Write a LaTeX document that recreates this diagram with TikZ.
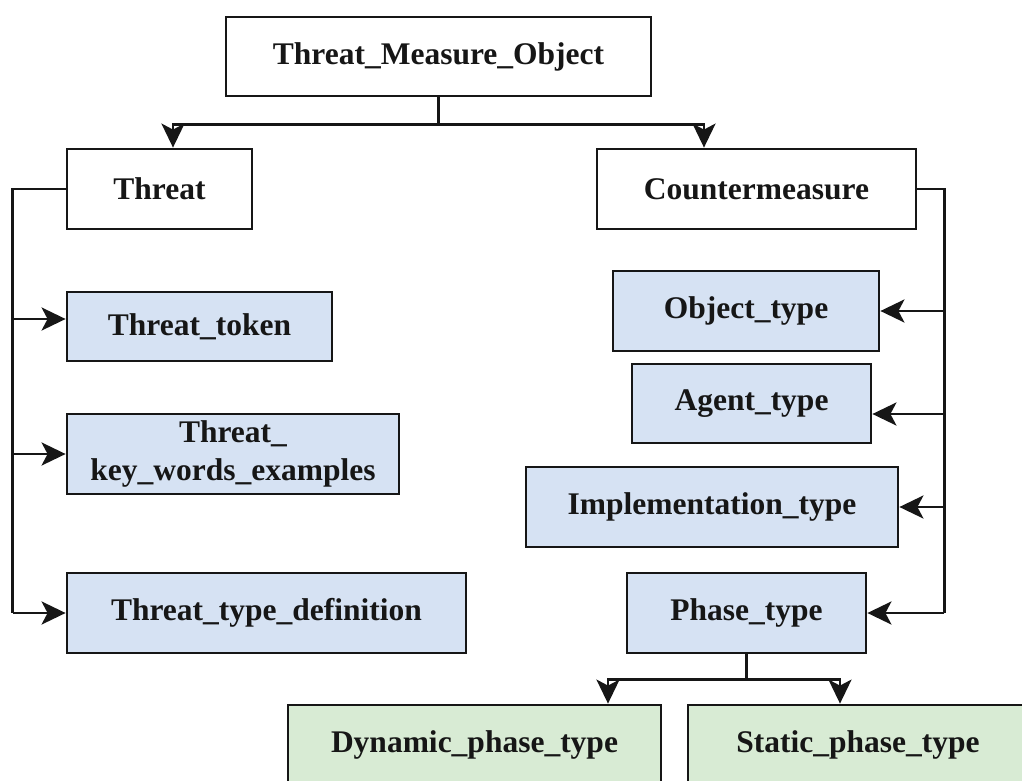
\documentclass[tikz,border=0pt]{standalone}
\usepackage{fontspec}
\setmainfont{Liberation Serif}
\usetikzlibrary{arrows.meta}

\definecolor{boxblue}{RGB}{214,226,243}
\definecolor{boxgreen}{RGB}{216,235,212}
\definecolor{ink}{RGB}{22,22,22}

\tikzset{
  box/.style={draw=ink, line width=2.8pt, rectangle, align=center, inner sep=0pt,
    font=\fontsize{31.5}{38}\selectfont\bfseries, text=ink},
  plainbox/.style={box, fill=white},
  bluebox/.style={box, fill=boxblue},
  greenbox/.style={box, fill=boxgreen},
  link/.style={draw=ink, line width=2.8pt},
  arr/.style={link, -{Stealth[length=24pt, width=23pt, inset=6pt]}}
}

\begin{document}
\begin{tikzpicture}[x=1pt, y=-1pt]
\useasboundingbox (0,0) rectangle (1022,781);
\clip (0,0) rectangle (1022,781);
\fill[white] (0,0) rectangle (1022,781);

% top level
\node[plainbox, minimum width=425pt, minimum height=79pt] (tmo) at (438.5,56.5) {Threat\_Measure\_Object};
\node[plainbox, minimum width=185pt, minimum height=80pt] (threat) at (159.5,189) {Threat};
\node[plainbox, minimum width=319pt, minimum height=80pt] (counter) at (756.5,189) {Countermeasure};

% threat attributes
\node[bluebox, minimum width=265pt, minimum height=69pt] (token) at (199.5,326.5) {Threat\_token};
\node[bluebox, minimum width=332pt, minimum height=80pt] (keys) at (233,454) {Threat\_\\key\_words\_examples};
\node[bluebox, minimum width=399pt, minimum height=80pt] (tdef) at (266.5,613) {Threat\_type\_definition};

% countermeasure attributes
\node[bluebox, minimum width=266pt, minimum height=80pt] (object) at (746,311) {Object\_type};
\node[bluebox, minimum width=239pt, minimum height=79pt] (agent) at (751.5,403.5) {Agent\_type};
\node[bluebox, minimum width=372pt, minimum height=80pt] (impl) at (712,507) {Implementation\_type};
\node[bluebox, minimum width=239pt, minimum height=80pt] (phase) at (746.5,613) {Phase\_type};

% phase subtypes
\node[greenbox, minimum width=373pt, minimum height=80pt] (dyn) at (474.5,745) {Dynamic\_phase\_type};
\node[greenbox, minimum width=340pt, minimum height=80pt] (stat) at (858,745) {Static\_phase\_type};

% root split
\coordinate (thIn) at ([xshift=13.5pt]threat.north);
\coordinate (cmIn) at ([xshift=-52.5pt]counter.north);
\draw[link] (tmo.south) -- ++(0,27) coordinate (tj);
\draw[arr] (tj) -| (thIn);
\draw[arr] (tj) -| (cmIn);

% threat trunk
\draw[link] (threat.west) -- ++(-53,0) coordinate (tl) -- (tl |- tdef.west);
\coordinate (tokIn) at ([yshift=7.5pt]token.west);
\draw[arr] (tl |- tokIn) -- (tokIn);
\draw[arr] (tl |- keys.west) -- (keys.west);
\draw[arr] (tl |- tdef.west) -- (tdef.west);

% countermeasure trunk
\draw[link] (counter.east) -- ++(27,0) coordinate (cr) -- (cr |- phase.east);
\coordinate (agIn) at ([yshift=-10.5pt]agent.east);
\draw[arr] (cr |- object.east) -- (object.east);
\draw[arr] (cr |- agIn) -- (agIn);
\draw[arr] (cr |- impl.east) -- (impl.east);
\draw[arr] (cr |- phase.east) -- (phase.east);

% phase split
\coordinate (dynIn) at ([xshift=133.5pt]dyn.north);
\coordinate (statIn) at ([xshift=-18pt]stat.north);
\draw[link] (phase.south) -- ++(0,25) coordinate (pj);
\draw[arr] (pj) -| (dynIn);
\draw[arr] (pj) -| (statIn);
\end{tikzpicture}
\end{document}
